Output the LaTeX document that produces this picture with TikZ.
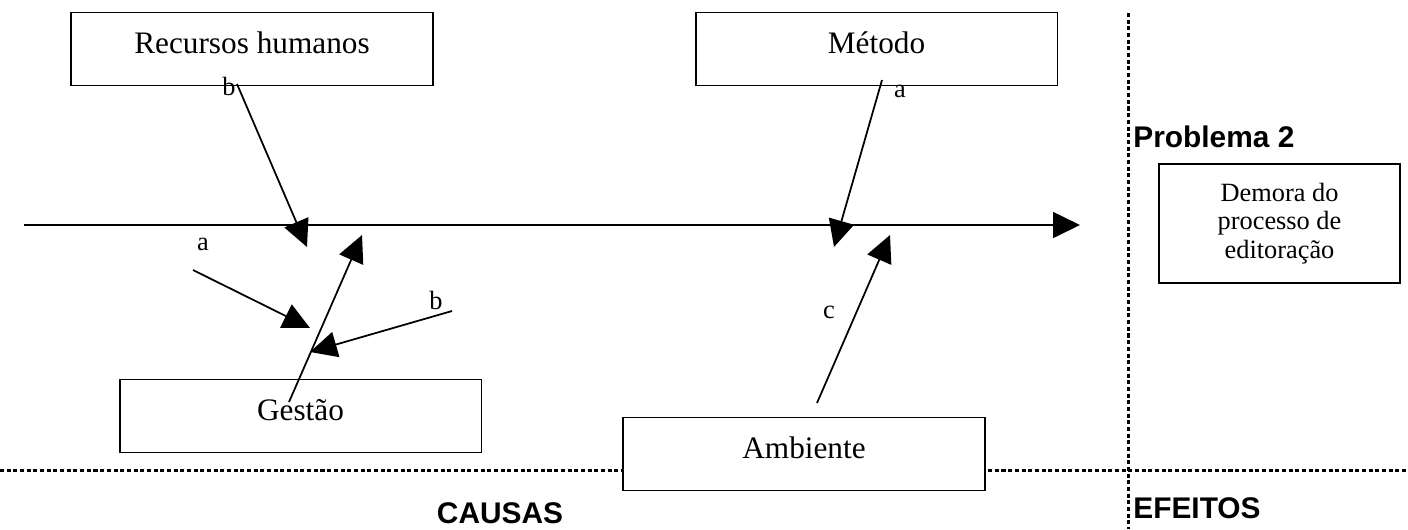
\documentclass[tikz,border=0pt]{standalone}
\usepackage{fontspec}
\setmainfont{Liberation Serif}
\setsansfont{Liberation Sans}
\usetikzlibrary{arrows.meta}

\tikzset{
  causa/.style={draw, fill=white, line width=1.1pt, inner sep=0pt, anchor=base,
    minimum width=7.24cm, text height=0.81cm, text depth=0.65cm,
    font=\fontsize{17.8}{20}\selectfont},
  efeito/.style={draw, fill=white, line width=1.1pt, inner sep=0pt, align=center,
    minimum width=4.82cm, minimum height=2.38cm, font=\fontsize{15}{16.4}\selectfont},
  rotulo/.style={inner sep=0pt, anchor=base, font=\fontsize{15}{18}\selectfont},
  titulo/.style={inner sep=0pt, font=\sffamily\bfseries\fontsize{17}{20}\selectfont},
  espinha/.style={line width=1pt, -{Triangle[length=15.3pt, width=14.7pt]}},
  divisa/.style={line width=1.7pt, dash pattern=on 2.3pt off 1.5pt},
}

\begin{document}
\begin{tikzpicture}[x=0.02cm, y=-0.02cm]
    \useasboundingbox (0, 0) rectangle (1408, 529);

    % Divisas
    \draw[divisa] (0, 470) -- (1408, 470);
    \draw[divisa] (1128, 13) -- (1128, 529);

    % Causas
    \node[causa] (rh) at (252, 53) {Recursos humanos};
    \node[causa] (metodo) at (876.5, 53) {Método};
    \node[causa] (gestao) at (300.5, 420) {Gestão};
    \node[causa] (ambiente) at (804, 458) {Ambiente};

    % Efeito
    \node[titulo, anchor=base west] (problema) at (1133, 147) {Problema 2};
    \node[efeito] (demora) at (1279.5, 223.5) {Demora do\\processo de\\editoração};

    % Espinha
    \coordinate (ini) at (24, 225);
    \coordinate (fim) at (1080, 225);
    \draw[espinha] (ini) -- (fim);

    % Setas
    \coordinate (rh-ini) at (237, 84);
    \coordinate (rh-fim) at (307, 247);
    \coordinate (me-ini) at (882, 80);
    \coordinate (me-fim) at (834, 247);
    \coordinate (ge-ini) at (289, 402);
    \coordinate (ge-fim) at (362, 235);
    \coordinate (ga-ini) at (193, 270);
    \coordinate (ga-fim) at (310, 328);
    \coordinate (gb-ini) at (452, 311);
    \coordinate (gb-fim) at (310, 352);
    \coordinate (am-ini) at (817, 403);
    \coordinate (am-fim) at (890, 235);
    \draw[espinha] (rh-ini) -- (rh-fim);
    \draw[espinha] (me-ini) -- (me-fim);
    \draw[espinha] (ge-ini) -- (ge-fim);
    \draw[espinha] (ga-ini) -- (ga-fim);
    \draw[espinha] (gb-ini) -- (gb-fim);
    \draw[espinha] (am-ini) -- (am-fim);

    % Rotulos
    \node[rotulo] (l-rh) at (229, 95) {b};
    \node[rotulo] (l-me) at (900, 97) {a};
    \node[rotulo] (l-ga) at (203, 250) {a};
    \node[rotulo] (l-gb) at (436, 309) {b};
    \node[rotulo] (l-am) at (829, 318) {c};

    % Titulos
    \node[titulo, anchor=base] (causas) at (500, 523) {CAUSAS};
    \node[titulo, anchor=base west] (efeitos) at (1133, 518) {EFEITOS};
\end{tikzpicture}
\end{document}
